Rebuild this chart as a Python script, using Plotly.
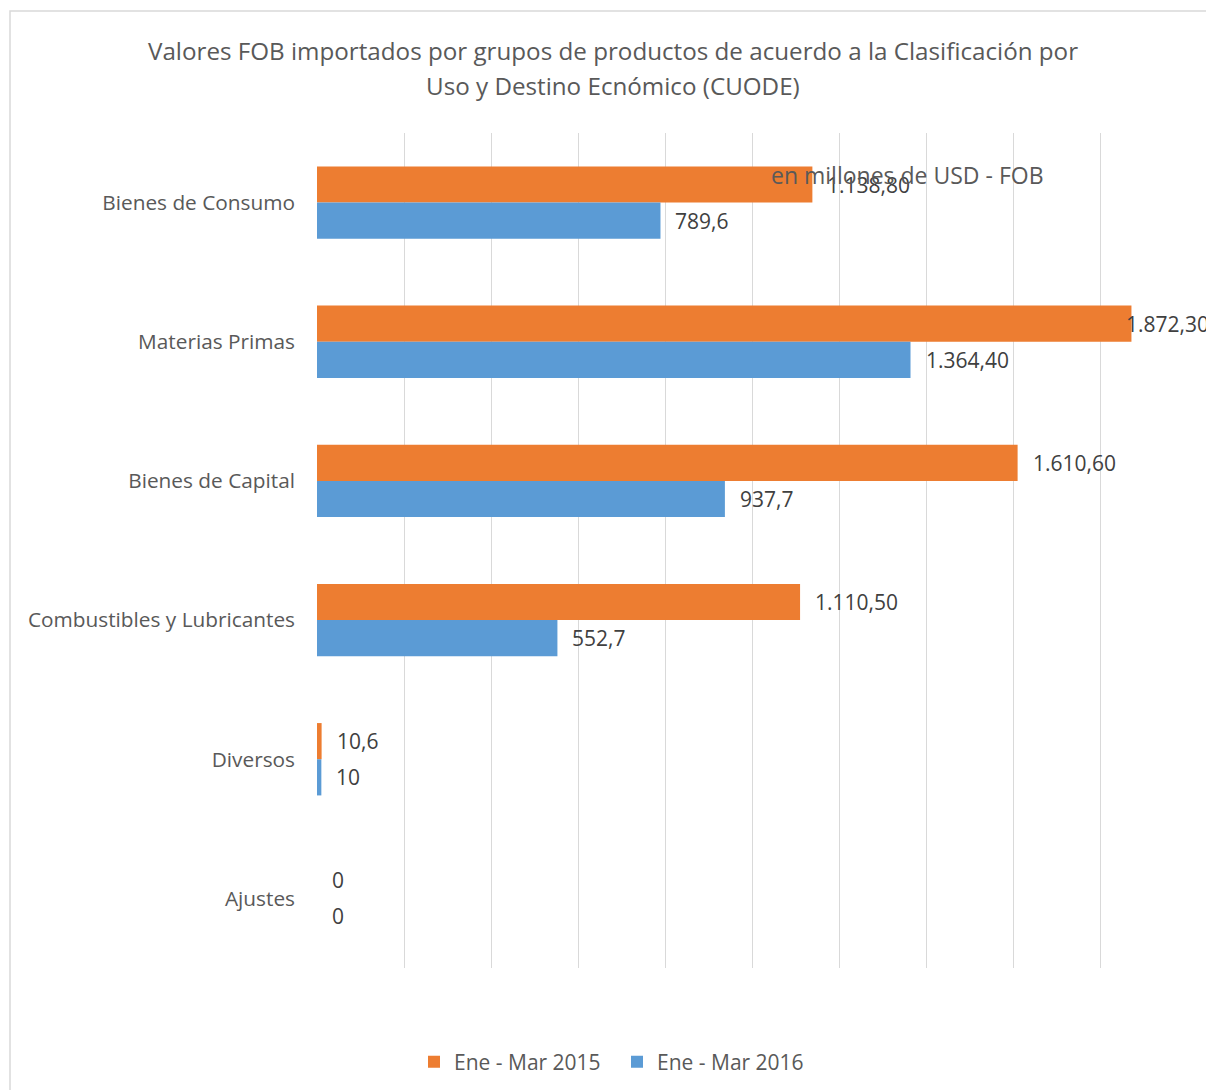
import plotly.graph_objects as go

# Import groups (CUODE classification), top to bottom
categorias = [
    "Bienes de Consumo",
    "Materias Primas",
    "Bienes de Capital",
    "Combustibles y Lubricantes",
    "Diversos",
    "Ajustes",
]

# FOB values in millions of USD
valores_2015 = [1138.8, 1872.3, 1610.6, 1110.5, 10.6, 0]
valores_2016 = [789.6, 1364.4, 937.7, 552.7, 10, 0]

# Data labels as printed next to each bar
etiquetas_2015 = ["1.138,80", "1.872,30", "1.610,60", "1.110,50", "10,6", "0"]
etiquetas_2016 = ["789,6", "1.364,40", "937,7", "552,7", "10", "0"]

serie_2015 = "Ene - Mar 2015"
serie_2016 = "Ene - Mar 2016"

titulo_1 = "Valores FOB importados por grupos de productos de acuerdo a la Clasificación por"
titulo_2 = "Uso y Destino Ecnómico (CUODE)"
nota = "en millones de USD - FOB"

NARANJA = "#ED7D31"
AZUL = "#5B9BD5"
FUENTE = "Open Sans"

# page / plot-area geometry in pixels
W, H = 1206, 1090
L, R, T, B = 317, 19, 133, 122
PW, PH = W - L - R, H - T - B
X_MAX = 2000


def px_x(xp):
    return (xp - L) / PW


def px_y(yp):
    return (H - B - yp) / PH


fig = go.Figure()
fig.add_trace(go.Bar(
    y=categorias, x=valores_2015, name=serie_2015, orientation="h",
    marker=dict(color=NARANJA, line=dict(width=0)),
))
fig.add_trace(go.Bar(
    y=categorias, x=valores_2016, name=serie_2016, orientation="h",
    marker=dict(color=AZUL, line=dict(width=0)),
))


def desplazamiento(v):
    # labels that would run past the frame are pulled back over the bar end
    fin = L + v / X_MAX * PW
    return -7 if fin + 13 + 80 > W else 13


# value labels just past the end of each bar
anotaciones = []
for valores, etiquetas, dy in ((valores_2015, etiquetas_2015, 18),
                               (valores_2016, etiquetas_2016, -18)):
    for cat, v, t in zip(categorias, valores, etiquetas):
        anotaciones.append(dict(
            x=v, y=cat, xref="x", yref="y", text=t, showarrow=False,
            xanchor="left", yanchor="middle", xshift=desplazamiento(v), yshift=dy,
            font=dict(family=FUENTE, size=21, color="#404040"),
        ))

# chart title, two lines
for texto, ypix in ((titulo_1, 50), (titulo_2, 85)):
    anotaciones.append(dict(
        x=px_x(613), y=px_y(ypix), xref="paper", yref="paper",
        text=texto, showarrow=False, xanchor="center", yanchor="middle",
        font=dict(family=FUENTE, size=24.2, color="#595959"),
    ))

# unit note
anotaciones.append(dict(
    x=px_x(769), y=px_y(175), xref="paper", yref="paper",
    text=nota, showarrow=False,
    xanchor="left", yanchor="middle",
    font=dict(family=FUENTE, size=23, color="#595959"),
))

fig.update_layout(
    width=W, height=H,
    margin=dict(l=L, r=R, t=T, b=B, autoexpand=False),
    paper_bgcolor="white", plot_bgcolor="white",
    barmode="group", bargap=0.48, bargroupgap=0,
    xaxis=dict(
        range=[0, X_MAX], dtick=200, showticklabels=False,
        showgrid=True, gridcolor="#d9d9d9", gridwidth=1.3,
        zeroline=False, showline=False, fixedrange=True,
    ),
    yaxis=dict(
        autorange="reversed", showgrid=False, showline=False,
        ticks="", ticklabelstandoff=21,
        tickfont=dict(family=FUENTE, size=20.8, color="#595959"),
    ),
    legend=dict(
        orientation="h", x=px_x(617), xanchor="center", y=px_y(1062), yanchor="middle",
        font=dict(family=FUENTE, size=21, color="#595959"),
        traceorder="normal", itemwidth=30, entrywidth=158, entrywidthmode="pixels",
    ),
    annotations=anotaciones,
    shapes=[dict(
        type="rect", xref="paper", yref="paper",
        x0=px_x(10), x1=px_x(1230),
        y0=px_y(1110), y1=px_y(11),
        line=dict(color="#d9d9d9", width=1.5), fillcolor="rgba(0,0,0,0)",
        layer="below",
    )],
    showlegend=True,
)

fig.write_html("out.html")
